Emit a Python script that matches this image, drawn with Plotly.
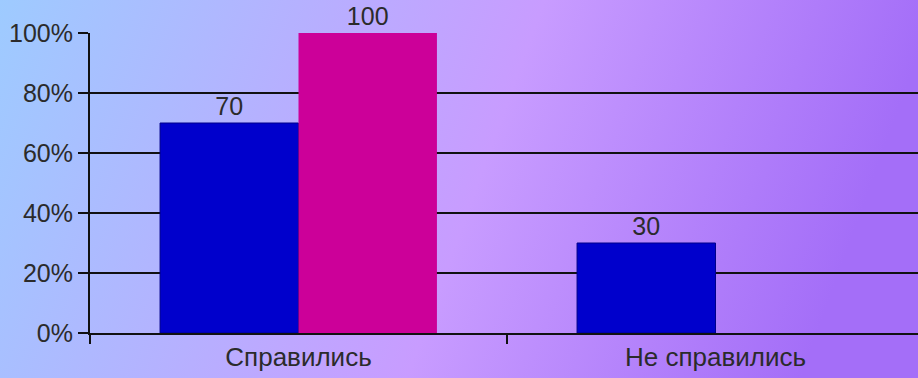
import base64
import plotly.graph_objects as go

categories = ["Справились", "Не справились"]
blue_values = [70, 30]
magenta_values = [100, 0]
blue_labels = ["70", "30"]
magenta_labels = ["100", ""]
y_ticks = [0, 20, 40, 60, 80, 100]
y_tick_labels = ["0%", "20%", "40%", "60%", "80%", "100%"]

W, H = 918, 378
ML, MR, MT, MB = 90, 0, 33, 45
pw, ph = W - ML - MR, H - MT - MB

# diagonal background gradient as an svg image behind everything
svg = (
    '<svg xmlns="http://www.w3.org/2000/svg" width="918" height="378">'
    '<defs><linearGradient id="g" x1="0" y1="0" x2="1" y2="0.15">'
    '<stop offset="0" stop-color="#9ECBFF"/>'
    '<stop offset="0.58" stop-color="#C89CFF"/>'
    '<stop offset="1" stop-color="#A46EF8"/>'
    '</linearGradient></defs>'
    '<rect width="918" height="378" fill="url(#g)"/></svg>'
)
bg_src = "data:image/svg+xml;base64," + base64.b64encode(svg.encode()).decode()

font = dict(family="Liberation Sans, Arial, sans-serif", size=25, color="#2b2b2b")
cat_font = dict(font, size=26)

fig = go.Figure()
fig.add_trace(go.Bar(
    x=categories, y=blue_values, text=blue_labels,
    textposition="outside", cliponaxis=False,
    marker=dict(color="#0000CC", line=dict(color="#00008a", width=1)),
    textfont=font,
))
fig.add_trace(go.Bar(
    x=categories, y=magenta_values, text=magenta_labels,
    textposition="outside", cliponaxis=False,
    marker=dict(color="#CC0099", line=dict(width=0)),
    textfont=font,
))

fig.update_layout(
    width=W, height=H,
    margin=dict(l=ML, r=MR, t=MT, b=MB),
    barmode="group", bargap=0.336, bargroupgap=0,
    showlegend=False,
    paper_bgcolor="#B8A8FF",
    plot_bgcolor="rgba(0,0,0,0)",
    font=font,
    uniformtext=dict(minsize=24, mode="show"),
    images=[dict(
        source=bg_src, xref="paper", yref="paper",
        x=-ML / pw, y=1 + MT / ph, sizex=W / pw, sizey=H / ph,
        xanchor="left", yanchor="top", sizing="stretch", layer="below",
    )],
)
fig.update_xaxes(
    range=[-0.5, -0.5 + pw / 417], tickson="boundaries",
    ticks="outside", ticklen=9, tickwidth=2, tickcolor="#111",
    showline=True, linecolor="#111", linewidth=2,
    showgrid=False, tickfont=cat_font,
)
fig.update_yaxes(
    range=[0, 100], tickvals=y_ticks, ticktext=y_tick_labels,
    ticks="outside", ticklen=10, tickwidth=2, tickcolor="#111",
    showline=True, linecolor="#111", linewidth=2,
    showgrid=True, gridcolor="#111", gridwidth=2,
    zeroline=False, tickfont=font,
)

fig.write_html("out.html", config={"displayModeBar": False},
               post_script="document.body.style.margin='0';")
